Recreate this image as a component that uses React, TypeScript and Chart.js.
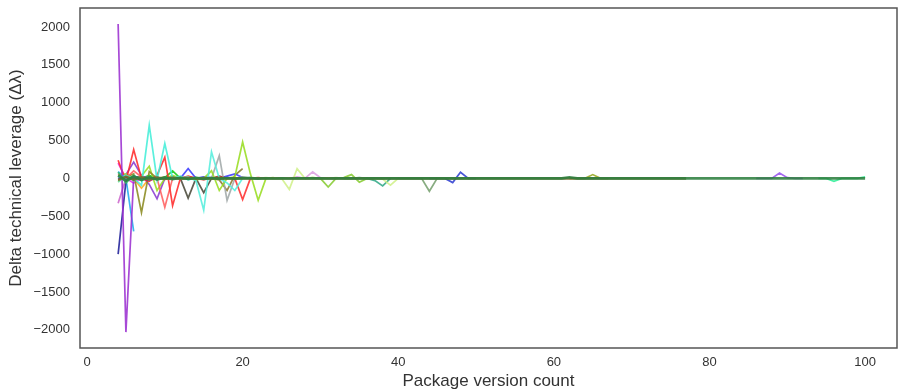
import { useEffect, useRef } from "react";
import { Chart, registerables } from "chart.js";

Chart.register(...registerables);

const xTickValues = [0, 20, 40, 60, 80, 100];
const yTickValues = [-2000, -1500, -1000, -500, 0, 500, 1000, 1500, 2000];

// Long near-zero series (version 4 -> 100)
const sLongGreen = [
  40, -30, 25, -20, 15, -15, 10, -10, 8, -8, 6, -6, 5, -5, 4, -4, 3,
  3, -3, 2, -2, 2, -2, 2, 0, 2, 0, -2, 0, 2, 0, -2, 0, 2, 0, 0, 0,
  0, 0, 0, 0, 0, 0, 0, 0, 0, 0, 0, 0, 0, 0, 0, 0, 0, 0, 0, 0,
  0, 15, 0, 0, 0, 0, 0, 0, 0, 0, 0, 0, 0, 0, 0, 0, 0, 0, 0, 0,
  0, 0, 0, 0, 0, 0, 0, 0, 0, 0, 0, 0, 0, 0, 0, 0, 0, 0, 0, 0,
];
// version 4 -> 77
const sLongBrown = [
  -20, 20, -15, 15, -10, 10, -8, 8, -5, 5, -4, 4, -3, 3, -2, 2, 0,
  0, 0, 0, 0, 0, 0, 0, 0, 0, 0, 0, 0, 0, 0, 0, 0, 0, 0, 0, 0,
  0, 0, 0, 0, 0, 0, 0, 0, 0, 0, 0, 0, 0, 0, 0, 0, 0, 0, 0, 0,
  0, 0, 0, 0, 0, 0, 0, 0, 0, 0, 0, 0, 0, 0, 0, 0, 0,
];
const sSeaGreen = [80, -60, 40, -30, 25, -20, 15, -10, 10, -8, 6, -5, 4, 0, 3, 0, 2, 0, 0];
const sMint = [-50, 40, -30, 20, -20, 15, -10, 8, -6, 5, 0, 4, 0];
const sPurpleSpike = [2040, -2030, 15, 0, 10, -5, 0, 5, 0];
const sNavy = [-1000, -40, 30, 0, -20, 10, 0, 5];
const sSky = [90, 0, -700];
const sTurqA = [20, 40, 0, -90, 700, -20, 460, 0, 30, -20, 10, 0];
const sTurqB = [0, 20, -30, -420, 350, 0, -60, -160, 0, 10];
const sRedA = [240, -40, 380, 0, -40, 40, 280, -360, 0, 30, 0, -10];
const sSalmon = [60, 0, 100, 20, 0, 0, -380, 0, 20, 0, 0, -20, 10];
const sRedB = [0, 20, 0, 0, -280, 0, 10, 0];
const sOlive = [-30, 20, 60, -450, 90, 0, 20, 0, -10, 0];
const sYellowGreen = [40, 60, 0, 30, 160, -160, 0, 40, 0, 10, -20, 0, 100, -160, 0, 20, 480, 60, -290, 0, 10];
const sGray = [0, 10, 0, 300, -290, 0, 20, 0];
const sDarkGray = [0, 10, 0, -260, 0, -190, 0, 30, 0];
const sPurpleB = [0, 50, 215, 40, -80, -270, 0, 10, 0, 20, 0];
const sBlue = [0, 20, 0, 30, 0, 10, 0, 20, 0, 130, 0, 20, 10, 0, 30, 60, 10, 0];
const sGreen = [30, 0, 20, 0, 40, 0, 10, 100, 0, 20, 0, 10, 0];
const sOrange = [0, 20, 0, -130, 0, 10, 0];
const sOrchid = [-330, 0, 30, 0, -30, 0, 10];
const sMagenta = [200, 0, -60, 0, 20, 0];
const sOliveBrown = [0, -20, -160, 40, 130];
const sLightYG = [0, 10, 0, 0, -145, 128, 0, 10, 0, 0, 10, 0, 0, 0, 0, 0, -10, -90, 0];
const sThistle = [0, 20, 0, 85, 10, 0, 0];
const sYG2 = [0, 10, 0, -115, 0, 10, 50, -50, 0, 0];
const sTeal = [0, 0, 10, 0, -30, -100, 0];
const sSage = [0, 0, 0, 0, -170, 0, 0];
const sBlueB = [0, 0, 0, -55, 80, 0, 0];
const sOliveC = [0, 0, 0, 50, 0, 0];
const sPurpleC = [0, 0, 0, 70, 10, 0, 0];
const sSpring = [0, 0, -40, 0, 0, 0, 20];

const seriesValues = [
  sLongGreen, sLongBrown, sSeaGreen, sMint, sPurpleSpike, sNavy, sSky, sTurqA, sTurqB,
  sRedA, sSalmon, sRedB, sOlive, sYellowGreen, sGray, sDarkGray, sPurpleB, sBlue,
  sGreen, sOrange, sOrchid, sMagenta, sOliveBrown, sLightYG, sThistle, sYG2, sTeal,
  sSage, sBlueB, sOliveC, sPurpleC, sSpring,
];
const seriesStart = [
  4, 4, 4, 4, 4, 4, 4, 4, 12,
  4, 4, 16, 4, 4, 14, 10, 4, 4,
  4, 4, 4, 4, 16, 22, 26, 28, 33,
  40, 44, 62, 86, 94,
];
const seriesColors = [
  "#2f8040", "#6f6428", "#33bb66", "#66dd99", "#9b30d0", "#1f1f99", "#22aaee", "#44eed8", "#55eedd",
  "#ff2a2a", "#ff6060", "#ff3030", "#8a8a20", "#99dd22", "#a0a8a8", "#4a4a3a", "#8a3ad0", "#3a3aff",
  "#11cc11", "#ffaa22", "#cc66cc", "#ee33ee", "#8a7a30", "#d0f08a", "#dda0e0", "#88cc33", "#33aa88",
  "#77a070", "#3040d0", "#99aa22", "#9955ee", "#33ee99",
];
const seriesWidths = [
  2.6, 2.6, 1.8, 1.8, 1.7, 1.7, 1.7, 1.7, 1.7,
  1.7, 1.7, 1.7, 1.7, 1.7, 1.7, 1.7, 1.7, 1.7,
  1.7, 1.7, 1.7, 1.7, 1.7, 1.7, 1.7, 1.7, 1.7,
  1.7, 1.7, 1.7, 1.7, 1.7,
];

const fmt = (v: number) => (v < 0 ? "\u2212" + Math.abs(v) : String(v));

const framePlugin = {
  id: "frame",
  afterDatasetsDraw(chart: any) {
    const { ctx, chartArea } = chart;
    const { left, top, right, bottom } = chartArea;
    ctx.save();
    ctx.strokeStyle = "#555555";
    ctx.lineWidth = 1.5;
    ctx.strokeRect(left, top, right - left, bottom - top);
    ctx.restore();
  },
};

export default function App() {
  const ref = useRef<HTMLCanvasElement | null>(null);
  useEffect(() => {
    if (!ref.current) return;
    const datasets = seriesValues.map((vals, i) => ({
      label: "s" + i,
      data: vals.map((v, j) => ({ x: seriesStart[i] + j, y: v })),
      borderColor: seriesColors[i] + "e0",
      backgroundColor: seriesColors[i],
      borderWidth: seriesWidths[i],
      pointRadius: 0,
      tension: 0,
      fill: false,
    }));
    const font = "'Liberation Sans', Arial, sans-serif";
    const chart = new Chart(ref.current, {
      type: "line",
      data: { datasets },
      options: {
        animation: false,
        responsive: false,
        events: [],
        layout: { padding: { left: 0, right: 4, top: 8, bottom: 0 } },
        plugins: { legend: { display: false }, tooltip: { enabled: false } },
        scales: {
          x: {
            type: "linear",
            min: -0.9,
            max: 104.1,
            grid: { display: false, drawTicks: false },
            border: { display: false },
            afterBuildTicks: (s: any) => {
              s.ticks = xTickValues.map((v) => ({ value: v }));
            },
            afterFit: (s: any) => {
              s.height = 43;
              s.paddingLeft = 0;
              s.paddingRight = 0;
            },
            ticks: {
              autoSkip: false,
              maxRotation: 0,
              padding: 7,
              color: "#333333",
              font: { family: font, size: 13 },
              callback: (v: any) => fmt(Number(v)),
            },
            title: {
              display: true,
              text: "Package version count",
              color: "#333333",
              font: { family: font, size: 17, lineHeight: 1.1 },
              padding: { top: 0, bottom: 0 },
            },
          },
          y: {
            type: "linear",
            min: -2240,
            max: 2250,
            grid: { display: false, drawTicks: false },
            border: { display: false },
            afterBuildTicks: (s: any) => {
              s.ticks = yTickValues.map((v) => ({ value: v }));
            },
            afterFit: (s: any) => {
              s.width = 80;
              s.paddingTop = 0;
              s.paddingBottom = 0;
            },
            ticks: {
              autoSkip: false,
              padding: 10,
              color: "#333333",
              font: { family: font, size: 13 },
              callback: (v: any) => fmt(Number(v)),
            },
            title: {
              display: true,
              text: "Delta technical leverage (Δλ)",
              color: "#333333",
              font: { family: font, size: 17 },
              padding: { top: 6, bottom: 0 },
            },
          },
        },
      },
      plugins: [framePlugin],
    });
    return () => chart.destroy();
  }, []);
  return (
    <div style={{ position: "fixed", left: 0, top: 0, width: 901, height: 391, background: "#fff" }}>
      <canvas ref={ref} width={901} height={391} style={{ display: "block" }} />
    </div>
  );
}
